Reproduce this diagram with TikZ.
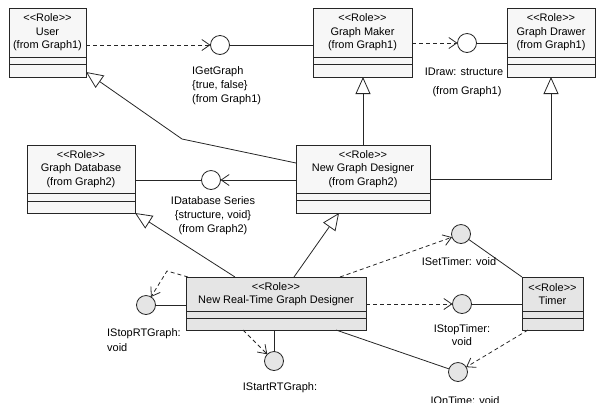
\documentclass[tikz,border=0pt]{standalone}
\usepackage{fontspec}
\setmainfont{Liberation Sans}
\usetikzlibrary{arrows.meta}

% stereotype text; the kerns keep << and >> from becoming guillemets
\newcommand\rolestereo{<\kern0pt<Role>\kern0pt>}

% class box: name, style, left, top, right, bottom, divider 1, divider 2, text
\newcommand\rolebox[9]{%
  \node[#2, minimum width={((#5)-(#3))*1bp}, minimum height={((#6)-(#4))*1bp}]
    (#1) at ({((#3)+(#5))/2},{((#4)+(#6))/2}) {};
  \draw[divider] (#3,#7) -- (#5,#7);
  \draw[divider] (#3,#8) -- (#5,#8);
  \node[roletext] (#1-text) at ({((#3)+(#5))/2},{((#4)+(#7))/2}) {#9};
}

\tikzset{
  lineclr/.style={draw=black!85},
  rolebase/.style={rectangle, lineclr, line width=0.8bp, inner sep=0pt, outer sep=0pt},
  plainrole/.style={rolebase, fill=black!3},
  greyrole/.style={rolebase, fill=black!10},
  divider/.style={lineclr, line width=0.8bp},
  roletext/.style={font=\fontsize{11}{13.5}\selectfont, align=center, inner sep=0pt},
  lbl/.style={font=\fontsize{11}{14}\selectfont, inner sep=0pt},
  iface/.style={circle, lineclr, line width=0.8bp, minimum size=19bp, inner sep=0pt, outer sep=0pt},
  ifacewhite/.style={iface, fill=white},
  ifacegrey/.style={iface, fill=black!10},
  wire/.style={lineclr, line width=0.8bp},
  dep/.style={wire, dash pattern=on 4bp off 3bp,
    -{Straight Barb[length=8bp, width=11bp, line width=0.8bp]}},
  gen/.style={wire, -{Triangle[open, length=17bp, width=15bp, fill=white, line width=0.8bp]}},
}

\begin{document}
\begin{tikzpicture}[x=1bp, y=-1bp]
\useasboundingbox (0,0) rectangle (596,402);

% ---- interfaces
\node[ifacewhite] (igetgraph) at (220,45) {};
\node[ifacewhite] (idraw) at (467,43) {};
\node[ifacewhite] (idbseries) at (211,180) {};
\node[ifacegrey] (isettimer) at (461,234) {};
\node[ifacegrey] (istoptimer) at (462,304) {};
\node[ifacegrey] (iontime) at (458,372) {};
\node[ifacegrey] (istoprt) at (146,305) {};
\node[ifacegrey] (istartrt) at (274,361) {};

% ---- bend points of the polyline connectors
\coordinate (user-bend) at (182,139);
\coordinate (stoprt-bend) at (167,271);

% ---- role boxes
\rolebox{user}{plainrole}{9}{8}{86}{77}{57}{64}{\rolestereo\\User\\(from Graph1)}
\rolebox{gmaker}{plainrole}{313}{8}{412}{77}{57}{64}{\rolestereo\\Graph Maker\\(from Graph1)}
\rolebox{gdrawer}{plainrole}{507}{8}{595}{77}{57}{64}{\rolestereo\\Graph Drawer\\(from Graph1)}
\rolebox{gdb}{plainrole}{27}{145}{135}{213}{193}{201}{\rolestereo\\Graph Database\\(from Graph2)}
\rolebox{ngd}{plainrole}{296}{145}{430}{213}{193}{200}{\rolestereo\\New Graph Designer\\(from Graph2)}
\rolebox{nrtgd}{greyrole}{186}{277}{366}{330}{311}{318}{\rolestereo\\New Real-Time Graph Designer}
\rolebox{timer}{greyrole}{522}{277}{583}{330}{311}{318}{\rolestereo\\Timer}

% ---- top row
\draw[dep] (user.east |- igetgraph) -- (igetgraph);
\draw[wire] (igetgraph) -- (igetgraph -| gmaker.west);
\draw[dep] (gmaker.east |- idraw) -- (idraw);
\draw[wire] (idraw) -- (idraw -| gdrawer.west);

% ---- generalisations of New Graph Designer
\draw[gen] ([yshift=16bp]ngd.west) -- (user-bend) -- ([yshift=5bp]user.south east);
\draw[gen] (ngd.north) -- (ngd.north |- gmaker.south);
\draw[gen] (ngd.east) -| (gdrawer.south);

% ---- database series
\draw[wire, -{Straight Barb[length=8bp, width=11bp, line width=0.8bp]}]
  (ngd.west |- idbseries) -- (idbseries);
\draw[wire] (gdb.east |- idbseries) -- (idbseries);

% ---- generalisations of New Real-Time Graph Designer
\draw[gen] ([xshift=49bp]nrtgd.north west) -- (gdb.south east);
\draw[gen] ([xshift=108bp]nrtgd.north west) -- ([xshift=43bp]ngd.south west);

% ---- timer interfaces
\draw[dep] ([xshift=-26bp]nrtgd.north east) -- (isettimer);
\draw[wire] (isettimer) -- (timer.north west);
\draw[dep] (nrtgd.east |- istoptimer) -- (istoptimer);
\draw[wire] (istoptimer) -- (istoptimer -| timer.west);
\draw[wire] ([xshift=-30bp]nrtgd.south east) -- (iontime);
\draw[dep] ([xshift=6bp]timer.south west) -- (iontime);

% ---- start / stop interfaces
\draw[dep] ([xshift=2bp]nrtgd.north west) -- (stoprt-bend) -- (istoprt);
\draw[wire] (istoprt) -- (istoprt -| nrtgd.west);
\draw[wire] (istartrt) -- (istartrt |- nrtgd.south);
\draw[dep] ([xshift=57bp]nrtgd.south west) -- (istartrt);

% ---- interface labels
\node[lbl, align=left, anchor=west] (igetgraph-label) at (192,86) {IGetGraph\\{\{}true, false{\}}\\(from Graph1)};
\node[lbl] (idraw-label) at (464,72) {IDraw: structure};
\node[lbl] (idraw-from) at (467,92) {(from Graph1)};
\node[lbl, align=center] (idbseries-label) at (213,216) {IDatabase Series\\{\{}structure, void{\}}\\(from Graph2)};
\node[lbl] (isettimer-label) at (459,262) {ISetTimer: void};
\node[lbl, align=center, font=\fontsize{11}{13}\selectfont] (istoptimer-label) at (462,335.5) {IStopTimer:\\void};
\node[lbl] (iontime-label) at (465,401) {IOnTime: void};
\node[lbl, align=left, anchor=west, font=\fontsize{11}{15}\selectfont] (istoprt-label) at (107,340.5) {IStopRTGraph:\\void};
\node[lbl] (istartrt-label) at (280,388) {IStartRTGraph:};
\end{tikzpicture}
\end{document}
